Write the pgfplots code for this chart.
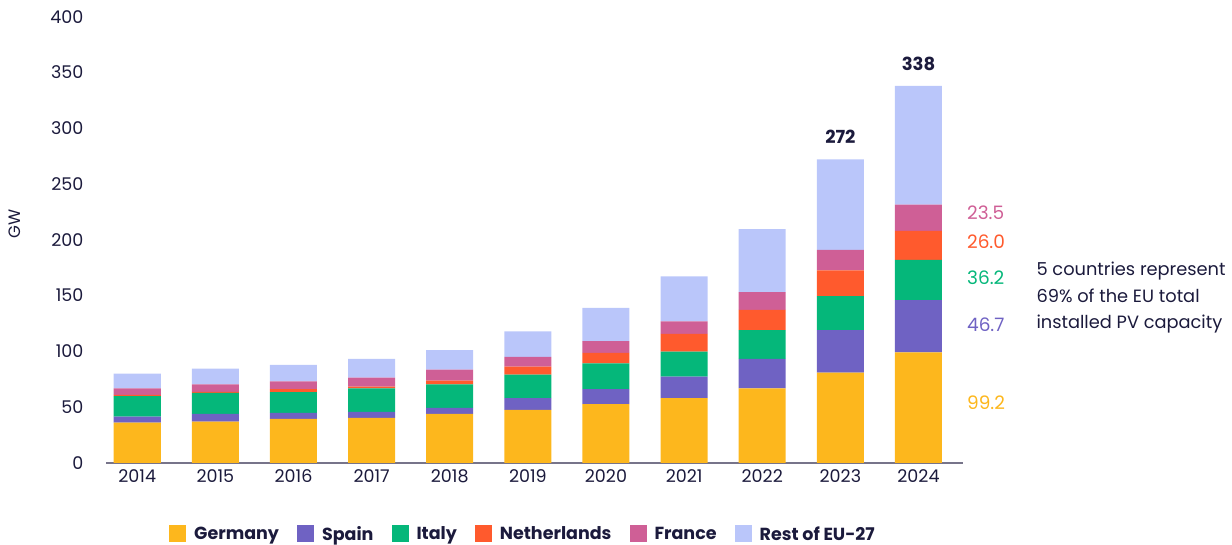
\documentclass[border=0pt]{standalone}
\usepackage{pgfplots}
\usepackage{pgfplotstable}
\pgfplotsset{compat=1.18}
\usepackage{fontspec}
\setmainfont{Poppins}

\definecolor{cDE}{HTML}{FDB71D}
\definecolor{cES}{HTML}{6F62C3}
\definecolor{cIT}{HTML}{05B77A}
\definecolor{cNL}{HTML}{FF5A2D}
\definecolor{cFR}{HTML}{CF5F96}
\definecolor{cRE}{HTML}{BAC6FA}
\definecolor{ink}{HTML}{1B1A3C}
\definecolor{axisgray}{HTML}{77748A}

% installed PV capacity, GW (0 = 2014 ... 10 = 2024)
\pgfplotstableread{
year DE   ES   IT   NL   FR   RE
0    36.1 5.5  18.3 1.1  5.9  13.2
1    37.0 7.0  18.8 1.0  6.6  14.1
2    39.6 5.3  18.5 2.9  6.8  14.9
3    40.5 5.3  21.1 1.5  8.2  16.7
4    44.0 5.3  21.1 3.5  9.7  17.6
5    47.5 10.6 21.1 7.1  8.8  22.9
6    52.8 13.5 22.9 9.4  10.6 29.9
7    58.1 19.4 22.2 15.9 11.2 40.5
8    66.9 26.4 25.8 18.2 15.9 56.3
9    81.0 38.1 30.5 22.9 18.5 81.0
10   99.2 46.7 36.2 26.0 23.5 106.4
}\pvdata

\tikzset{sidelab/.style={anchor=west, inner sep=0pt, font=\fontsize{18.5}{21}\selectfont}}

\begin{document}
\begin{tikzpicture}[x=1pt,y=1pt]
\path[use as bounding box] (0,0) rectangle (1232,545);
\begin{axis}[
  at={(106pt,82pt)}, anchor=south west,
  scale only axis, width=857pt, height=446.4pt,
  xmin=-0.40, xmax=10.57, ymin=0, ymax=400,
  ybar stacked, bar width=47pt,
  clip=false,
  axis x line*=bottom, axis y line*=left,
  x axis line style={draw=axisgray, line width=1.5pt},
  y axis line style={draw=none},
  major tick length=0pt,
  xtick=data, xticklabels={2014,2015,2016,2017,2018,2019,2020,2021,2022,2023,2024},
  ytick={0,50,...,400},
  /pgf/number format/assume math mode=true,
  tick label style={font=\fontsize{17.5}{20}\selectfont, text=ink},
  yticklabel style={xshift=-19pt},
  xticklabel style={yshift=-3pt},
  legend style={at={(0.4866,-0.159)}, anchor=center, draw=none, fill=none,
    legend columns=-1, font=\fontsize{17.5}{20}\selectfont\bfseries, text=ink,
    /tikz/every odd column/.append style={column sep=6pt},
    /tikz/every even column/.append style={column sep=16pt}},
  legend image code/.code={\fill[#1] (0pt,-8.5pt) rectangle (17pt,8.5pt);},
]
\addplot[fill=cDE, draw=none] table[x=year, y=DE] {\pvdata};
\addlegendentry{Germany}
\addplot[fill=cES, draw=none] table[x=year, y=ES] {\pvdata};
\addlegendentry{Spain}
\addplot[fill=cIT, draw=none] table[x=year, y=IT] {\pvdata};
\addlegendentry{Italy}
\addplot[fill=cNL, draw=none] table[x=year, y=NL] {\pvdata};
\addlegendentry{Netherlands}
\addplot[fill=cFR, draw=none] table[x=year, y=FR] {\pvdata};
\addlegendentry{France}
\addplot[fill=cRE, draw=none] table[x=year, y=RE] {\pvdata};
\addlegendentry{Rest of EU-27}

\node[font=\fontsize{18}{21}\selectfont\bfseries, text=ink] at (axis cs:9,292.1) {272};
\node[font=\fontsize{18}{21}\selectfont\bfseries, text=ink] at (axis cs:10,357.5) {338};
\node[sidelab, text=cFR] at (axis cs:10.62,224.0) {23.5};
\node[sidelab, text=cNL] at (axis cs:10.62,198.0) {26.0};
\node[sidelab, text=cIT] at (axis cs:10.62,165.8) {36.2};
\node[sidelab, text=cES] at (axis cs:10.62,123.7) {46.7};
\node[sidelab, text=cDE] at (axis cs:10.62,53.8) {99.2};
\end{axis}
\node[anchor=west, align=left, text=ink, font=\fontsize{17.8}{26.5}\selectfont] at (1033,247)
  {5 countries represent\\69\% of the EU total\\installed PV capacity};
\node[rotate=90, text=ink, font=\fontsize{16.5}{19}\selectfont] at (15,321) {GW};
\end{tikzpicture}
\end{document}
